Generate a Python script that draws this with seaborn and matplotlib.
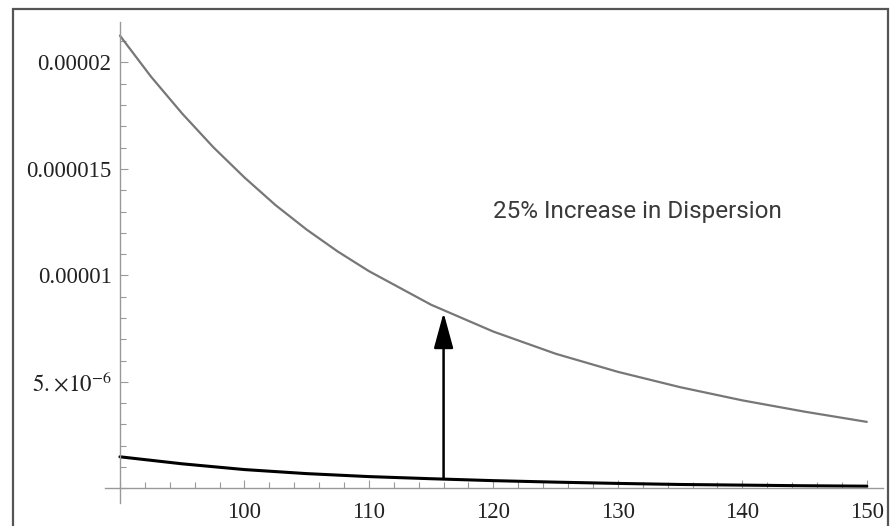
import matplotlib
matplotlib.use('Agg')
import matplotlib.pyplot as plt
import seaborn as sns
import pandas as pd
from matplotlib.ticker import FixedLocator, FixedFormatter, MultipleLocator
from matplotlib.patches import Rectangle, ArrowStyle

# curva alta (dispersione +25%)
x_high = [90, 92.5, 95, 97.5, 100, 102.5, 105, 107.5, 110, 115, 120, 125, 130, 135, 140, 145, 150]
y_high = [21.26e-6, 19.33e-6, 17.6e-6, 16.02e-6, 14.6e-6, 13.3e-6, 12.15e-6, 11.12e-6, 10.2e-6,
          8.62e-6, 7.36e-6, 6.32e-6, 5.47e-6, 4.75e-6, 4.13e-6, 3.6e-6, 3.12e-6]

# curva bassa
x_low = [90, 95, 100, 105, 110, 115, 120, 125, 130, 135, 140, 145, 150]
y_low = [1.48e-6, 1.15e-6, 0.88e-6, 0.69e-6, 0.55e-6, 0.45e-6, 0.36e-6, 0.29e-6,
         0.23e-6, 0.18e-6, 0.15e-6, 0.12e-6, 0.10e-6]

x_ticks = [100, 110, 120, 130, 140, 150]
y_ticks = [5e-6, 1e-5, 1.5e-5, 2e-5]
y_tick_labels = [r'$5.\!\times\!10^{-6}$', '0.00001', '0.000015', '0.00002']

arrow_x = 116
arrow_from = 0.44e-6
arrow_to = 8.25e-6
label = '25% Increase in Dispersion'

df_high = pd.DataFrame({'x': x_high, 'y': y_high})
df_low = pd.DataFrame({'x': x_low, 'y': y_low})

sns.set_style('white')
plt.rcParams['font.family'] = ['Liberation Serif', 'DejaVu Serif']
plt.rcParams['mathtext.fontset'] = 'stix'

fig = plt.figure(figsize=(8.92, 5.26), dpi=100)
ax = fig.add_axes([105 / 892, 1 - 503 / 526, (883 - 105) / 892, (503 - 22) / 526])

sns.lineplot(data=df_high, x='x', y='y', ax=ax, color='#777777', linewidth=1.6)
sns.lineplot(data=df_low, x='x', y='y', ax=ax, color='black', linewidth=2.2)

ax.set_xlim(88.8, 151.3)
ax.set_ylim(-0.69e-6, 21.9e-6)
ax.set_xlabel('')
ax.set_ylabel('')

for s in ['top', 'right']:
    ax.spines[s].set_visible(False)
ax.spines['left'].set_position(('data', 90))
ax.spines['bottom'].set_position(('data', 0))
for s in ['left', 'bottom']:
    ax.spines[s].set_color('#999999')
    ax.spines[s].set_linewidth(1.0)

ax.xaxis.set_major_locator(FixedLocator(x_ticks))
ax.xaxis.set_major_formatter(FixedFormatter([str(t) for t in x_ticks]))
ax.xaxis.set_minor_locator(MultipleLocator(2))
ax.yaxis.set_major_locator(FixedLocator(y_ticks))
ax.yaxis.set_major_formatter(FixedFormatter(y_tick_labels))
ax.yaxis.set_minor_locator(MultipleLocator(1e-6))

ax.tick_params(axis='both', which='both', bottom=True, left=True, top=False, right=False)
ax.tick_params(axis='both', which='major', direction='in', length=6, width=0.8,
               color='#999999', labelsize=16.5, labelcolor='#222222')
ax.tick_params(axis='both', which='minor', direction='in', length=4, width=0.8,
               color='#999999')
ax.tick_params(axis='x', which='major', pad=10)
ax.tick_params(axis='y', which='major', pad=6)

ax.annotate('', xy=(arrow_x, arrow_to), xytext=(arrow_x, arrow_from),
            arrowprops=dict(arrowstyle=ArrowStyle('-|>', head_length=2.2, head_width=0.6),
                            mutation_scale=10, color='black', lw=1.8,
                            shrinkA=0, shrinkB=0))

ax.text(120, 13.0e-6, label, ha='left', va='center', fontsize=17.5,
        color='#3a3a3a', family=['Roboto', 'DejaVu Sans'])

# cornice esterna
fig.patches.append(Rectangle((13 / 892, -0.02), (888 - 13) / 892, 1.02 - 9 / 526,
                             transform=fig.transFigure, fill=False,
                             edgecolor='#555555', linewidth=1.6, clip_on=False))

fig.savefig('out.png', dpi=100)
